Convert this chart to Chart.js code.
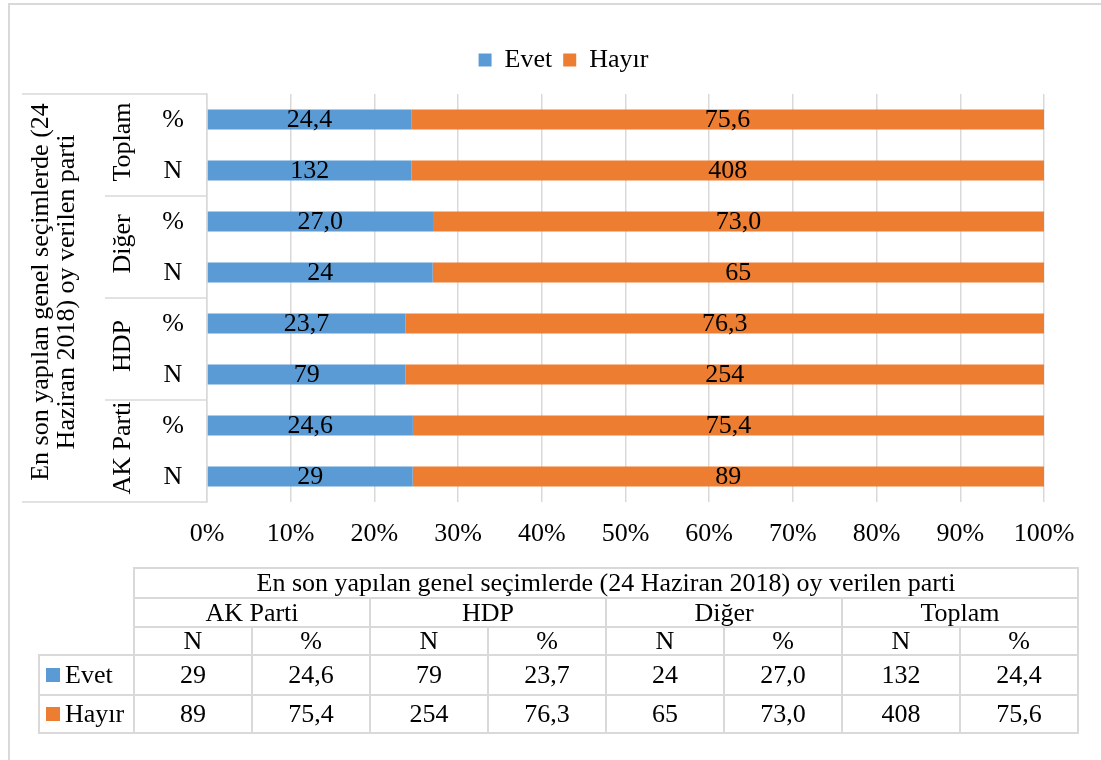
<!DOCTYPE html>
<html><head><meta charset="utf-8">
<script src="https://cdn.jsdelivr.net/npm/chart.js@4.4.0/dist/chart.umd.min.js"></script>
<style>
html,body{margin:0;padding:0;background:#fff;overflow:hidden;width:1101px;height:760px;}
#frame{position:absolute;left:8px;top:3px;width:1200px;height:900px;border-left:2px solid #d9d9d9;border-top:2px solid #d9d9d9;}
#wrap{position:absolute;left:0;top:0;width:1101px;height:760px;}
#tbl{position:absolute;left:38px;top:567px;border-collapse:collapse;table-layout:fixed;width:1039px;font-family:"Liberation Serif","Times New Roman",serif;font-size:26px;color:#000;}
#tbl td{border:2px solid #d9d9d9;text-align:center;padding:0;line-height:26px;white-space:nowrap;overflow:hidden;}
#tbl td.blank{border:none;}
#tbl td.key{text-align:left;padding-left:6px;}
.sw{display:inline-block;width:14px;height:14px;margin-right:5px;vertical-align:1px;}
</style></head><body>
<div id="frame"></div>
<div id="wrap"><canvas id="c"></canvas></div>
<table id="tbl"></table>
<script>
// ---- data ----
const parties = ['AK Parti', 'HDP', 'Diğer', 'Toplam'];
const rowKinds = ['N', '%'];
const seriesNames = ['Evet', 'Hayır'];
const evetN = [29, 79, 24, 132];
const hayirN = [89, 254, 65, 408];
const evetPct = [24.6, 23.7, 27.0, 24.4];
const hayirPct = [75.4, 76.3, 73.0, 75.6];
const xTickValues = [0, 10, 20, 30, 40, 50, 60, 70, 80, 90, 100];
const tableTitle = 'En son yapılan genel seçimlerde (24 Haziran 2018) oy verilen parti';
const axisTitleLines = ['En son yapılan genel seçimlerde (24', 'Haziran 2018) oy verilen parti'];
const colors = ['#5B9BD5', '#ED7D31'];
const FONT = '"Liberation Serif", "Times New Roman", serif';
const FS = 26;

const fmt = v => v.toFixed(1).replace('.', ',');

// build rows top -> bottom (Toplam first)
const rowLabels = [], rowGroup = [], rowKind = [];
const evetVals = [], hayirVals = [], evetTxt = [], hayirTxt = [];
for (let gi = parties.length - 1; gi >= 0; gi--) {
  ['%', 'N'].forEach(kind => {
    rowLabels.push(parties[gi] + ' ' + kind);
    rowGroup.push(parties[gi]);
    rowKind.push(kind);
    if (kind === '%') {
      evetVals.push(evetPct[gi]); hayirVals.push(hayirPct[gi]);
      evetTxt.push(fmt(evetPct[gi])); hayirTxt.push(fmt(hayirPct[gi]));
    } else {
      const t = evetN[gi] + hayirN[gi];
      evetVals.push(evetN[gi] / t * 100); hayirVals.push(hayirN[gi] / t * 100);
      evetTxt.push(String(evetN[gi])); hayirTxt.push(String(hayirN[gi]));
    }
  });
}

const barLabels = {
  id: 'barLabels',
  afterDatasetsDraw(chart) {
    const ctx = chart.ctx;
    ctx.save();
    ctx.font = FS + 'px ' + FONT;
    ctx.fillStyle = '#000';
    ctx.textAlign = 'center';
    ctx.textBaseline = 'middle';
    chart.data.datasets.forEach((ds, di) => {
      const meta = chart.getDatasetMeta(di);
      meta.data.forEach((el, i) => {
        const p = el.getProps(['x', 'y', 'base'], true);
        ctx.fillText(ds.valueText[i], (p.x + p.base) / 2, p.y + 1);
      });
    });
    ctx.restore();
  }
};

const catAxis = {
  id: 'catAxis',
  afterDraw(chart) {
    const ys = chart.scales.y;
    const ctx = chart.ctx;
    const top = ys.top, bottom = ys.bottom, right = ys.right;
    const n = rowLabels.length;
    const pix = i => ys.getPixelForValue(i);
    ctx.save();
    ctx.strokeStyle = '#d9d9d9';
    ctx.lineWidth = 1.5;
    ctx.beginPath();
    ctx.moveTo(22, top); ctx.lineTo(right, top);
    ctx.moveTo(22, bottom); ctx.lineTo(right, bottom);
    for (let i = 2; i < n; i += 2) {
      const y = (pix(i - 1) + pix(i)) / 2;
      ctx.moveTo(105, y); ctx.lineTo(right, y);
    }
    ctx.stroke();
    ctx.fillStyle = '#000';
    ctx.font = FS + 'px ' + FONT;
    ctx.textAlign = 'center';
    ctx.textBaseline = 'middle';
    for (let i = 0; i < n; i++) ctx.fillText(rowKind[i], 173, pix(i) + 1);
    for (let i = 0; i < n; i += 2) {
      const y = (pix(i) + pix(i + 1)) / 2 - 3;
      ctx.save(); ctx.translate(123, y); ctx.rotate(-Math.PI / 2);
      ctx.fillText(rowGroup[i], 0, 0); ctx.restore();
    }
    const cy = (top + bottom) / 2 - 6;
    [41, 67].forEach((x, k) => {
      ctx.save(); ctx.translate(x, cy); ctx.rotate(-Math.PI / 2);
      ctx.fillText(axisTitleLines[k], 0, 0); ctx.restore();
    });
    ctx.restore();
  }
};

new Chart(document.getElementById('c'), {
  type: 'bar',
  data: {
    labels: rowLabels,
    datasets: [
      { label: seriesNames[0], data: evetVals, valueText: evetTxt, backgroundColor: colors[0], barPercentage: 0.39, categoryPercentage: 1 },
      { label: seriesNames[1], data: hayirVals, valueText: hayirTxt, backgroundColor: colors[1], barPercentage: 0.39, categoryPercentage: 1 }
    ]
  },
  options: {
    indexAxis: 'y',
    responsive: true,
    maintainAspectRatio: false,
    animation: false,
    layout: { padding: { top: 36, left: 83, right: 57, bottom: 0 } },
    plugins: {
      legend: {
        position: 'top',
        labels: { font: { family: FONT, size: FS }, color: '#000', boxWidth: 13, boxHeight: 13, padding: 11 }
      },
      tooltip: { enabled: false }
    },
    scales: {
      x: {
        stacked: true, min: 0, max: 100,
        afterBuildTicks(s) { s.ticks = xTickValues.map(v => ({ value: v })); },
        ticks: { callback: v => v + '%', font: { family: FONT, size: FS }, color: '#000', padding: 17, maxRotation: 0 },
        grid: { color: '#d9d9d9', lineWidth: 1.5, drawTicks: false },
        border: { display: false },
        afterFit(s) { s.height = 258; }
      },
      xTop: {
        type: 'linear', position: 'top', axis: 'x', display: true,
        ticks: { display: false },
        grid: { display: false, drawTicks: false },
        border: { display: false },
        afterFit(s) { s.height = 11; }
      },
      y: {
        stacked: true,
        ticks: { display: false },
        grid: { display: false, drawTicks: false },
        border: { display: true, color: '#d9d9d9', width: 1.5 },
        afterFit(s) { s.width = 124; }
      }
    }
  },
  plugins: [barLabels, catAxis]
});

// ---- table ----
const tbl = document.getElementById('tbl');
let html = '<colgroup><col style="width:95px">';
for (let i = 0; i < parties.length * 2; i++) html += '<col style="width:118px">';
html += '</colgroup>';
html += '<tr style="height:30px"><td class="blank"></td><td colspan="8">' + tableTitle + '</td></tr>';
html += '<tr style="height:29px"><td class="blank"></td>' + parties.map(p => '<td colspan="2">' + p + '</td>').join('') + '</tr>';
html += '<tr style="height:28px"><td class="blank"></td>' + parties.map(() => rowKinds.map(k => '<td>' + k + '</td>').join('')).join('') + '</tr>';
const tRows = [[evetN, evetPct], [hayirN, hayirPct]];
tRows.forEach((r, si) => {
  html += '<tr style="height:' + (si === 0 ? 40 : 38) + 'px"><td class="key"><span class="sw" style="background:' + colors[si] + '"></span>' + seriesNames[si] + '</td>';
  parties.forEach((p, pi) => { html += '<td>' + r[0][pi] + '</td><td>' + fmt(r[1][pi]) + '</td>'; });
  html += '</tr>';
});
tbl.innerHTML = html;
</script>
</body></html>
